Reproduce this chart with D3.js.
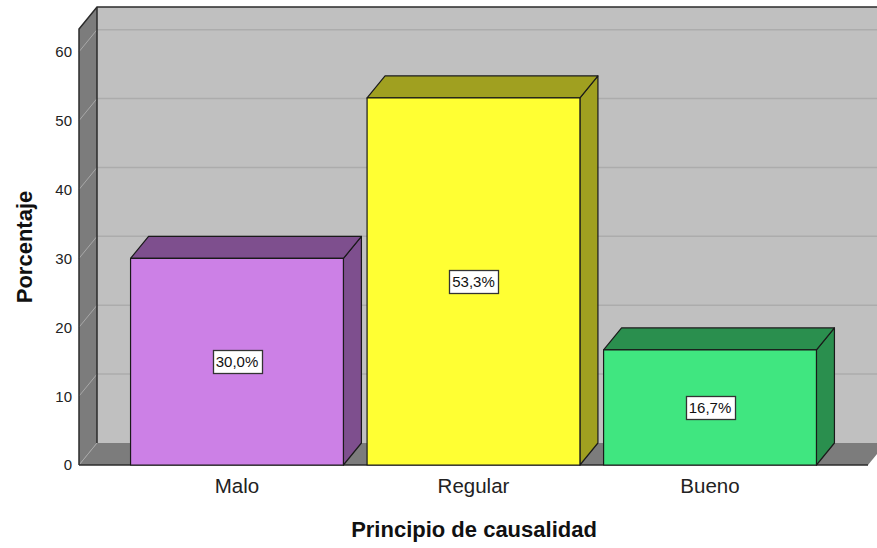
<!DOCTYPE html>
<html>
<head>
<meta charset="utf-8">
<script src="https://cdn.jsdelivr.net/npm/d3@7"></script>
<style>
  html, body { margin: 0; padding: 0; background: #fff; }
  svg { display: block; font-family: "Liberation Sans", Arial, sans-serif; }
</style>
</head>
<body>
<svg id="chart" width="877" height="548"></svg>
<script>
// Data
const categories = ["Malo", "Regular", "Bueno"];
const percentages = [30.0, 53.3, 16.7];
const frontColors = ["#cc80e6", "#ffff33", "#40e680"];
const sideColors = ["#7e4f8e", "#a0a020", "#2a8f4e"];
const yTicks = [0, 10, 20, 30, 40, 50, 60];

const svg = d3.select("#chart");

// Front plane geometry and depth offset for the 3D effect
const front = { left: 79, right: 868, top: 29, bottom: 465 };
const depth = { dx: 18, dy: -22 };
const yMax = 63.3;

const x = d3.scaleBand()
  .domain(categories)
  .range([front.left, front.right])
  .paddingInner(0.1)
  .paddingOuter(0.218);

const y = d3.scaleLinear()
  .domain([0, yMax])
  .range([front.bottom, front.top]);

const bx = front.left + depth.dx;
const wallRight = front.right + depth.dx;
const line = d3.line();

// Back wall
svg.append("rect")
  .attr("x", bx).attr("y", y(yMax) + depth.dy)
  .attr("width", wallRight - bx)
  .attr("height", y(0) - y(yMax))
  .attr("fill", "#c0c0c0");

// Left wall
svg.append("path")
  .attr("d", line([[front.left, y(yMax)], [bx, y(yMax) + depth.dy], [bx, y(0) + depth.dy], [front.left, y(0)]]) + "Z")
  .attr("fill", "#7c7c7c");

// Floor
svg.append("path")
  .attr("d", line([[front.left, y(0)], [bx, y(0) + depth.dy], [wallRight, y(0) + depth.dy], [front.right, y(0)]]) + "Z")
  .attr("fill", "#7c7c7c");

// Gridlines: along the back wall and diagonally across the left wall
const grid = svg.append("g");
yTicks.forEach(t => {
  if (t > 0) {
    grid.append("line")
      .attr("x1", bx).attr("x2", wallRight)
      .attr("y1", y(t) + depth.dy).attr("y2", y(t) + depth.dy)
      .attr("stroke", "#acacac").attr("stroke-width", 1.5);
  }
  grid.append("line")
    .attr("x1", front.left).attr("y1", y(t))
    .attr("x2", bx).attr("y2", y(t) + depth.dy)
    .attr("stroke", "#a8a8a8").attr("stroke-width", 1);
});

// Frame edges
const edge = "#2b2b2b";
svg.append("path")
  .attr("d", line([[front.left, y(0)], [front.left, y(yMax)], [bx, y(yMax) + depth.dy], [wallRight, y(yMax) + depth.dy]]))
  .attr("fill", "none").attr("stroke", edge).attr("stroke-width", 1.5);
svg.append("line")
  .attr("x1", bx).attr("x2", bx)
  .attr("y1", y(yMax) + depth.dy).attr("y2", y(0) + depth.dy)
  .attr("stroke", edge).attr("stroke-width", 1.5);
svg.append("line")
  .attr("x1", front.left).attr("x2", front.right)
  .attr("y1", y(0)).attr("y2", y(0))
  .attr("stroke", edge).attr("stroke-width", 1.5);

// Y axis tick labels
svg.append("g").selectAll("text")
  .data(yTicks).join("text")
  .attr("x", 72).attr("y", d => y(d))
  .attr("dy", "0.36em")
  .attr("text-anchor", "end")
  .attr("font-size", 15)
  .attr("fill", "#222")
  .text(d => d);

// Bars
const bars = svg.append("g");
categories.forEach((c, i) => {
  const v = percentages[i];
  const x0 = x(c), x1 = x(c) + x.bandwidth();
  const yv = y(v), y0 = y(0);
  const g = bars.append("g").attr("stroke", "#1a1a1a").attr("stroke-width", 1.2).attr("stroke-linejoin", "round");
  // side face
  g.append("path")
    .attr("d", line([[x1, yv], [x1 + depth.dx, yv + depth.dy], [x1 + depth.dx, y0 + depth.dy], [x1, y0]]) + "Z")
    .attr("fill", sideColors[i]);
  // top face
  g.append("path")
    .attr("d", line([[x0, yv], [x0 + depth.dx, yv + depth.dy], [x1 + depth.dx, yv + depth.dy], [x1, yv]]) + "Z")
    .attr("fill", sideColors[i]);
  // front face
  g.append("rect")
    .attr("x", x0).attr("y", yv)
    .attr("width", x1 - x0).attr("height", y0 - yv)
    .attr("fill", frontColors[i]);
});

// Value labels in boxes
const fmt = v => v.toFixed(1).replace(".", ",") + "%";
categories.forEach((c, i) => {
  const v = percentages[i];
  const cx = x(c) + x.bandwidth() / 2;
  const cy = (y(v) + y(0)) / 2;
  const lg = svg.append("g");
  const t = lg.append("text")
    .attr("x", cx).attr("y", cy)
    .attr("dy", "0.36em")
    .attr("text-anchor", "middle")
    .attr("font-size", 15)
    .attr("fill", "#111")
    .text(fmt(v));
  const bb = t.node().getBBox();
  lg.insert("rect", "text")
    .attr("x", Math.round(cx - bb.width / 2 - 3) + 0.5)
    .attr("y", Math.round(cy - 11.5) + 0.5)
    .attr("width", Math.round(bb.width + 6))
    .attr("height", 23)
    .attr("fill", "#fff")
    .attr("stroke", "#333")
    .attr("stroke-width", 1.3);
});

// X axis category labels
svg.append("g").selectAll("text")
  .data(categories).join("text")
  .attr("x", d => x(d) + x.bandwidth() / 2)
  .attr("y", 493)
  .attr("text-anchor", "middle")
  .attr("font-size", 20.5)
  .attr("fill", "#222")
  .text(d => d);

// Axis titles
svg.append("text")
  .attr("x", 474).attr("y", 537)
  .attr("text-anchor", "middle")
  .attr("font-size", 22)
  .attr("font-weight", "bold")
  .attr("fill", "#111")
  .text("Principio de causalidad");

svg.append("text")
  .attr("transform", "translate(32,247) rotate(-90)")
  .attr("text-anchor", "middle")
  .attr("font-size", 22)
  .attr("font-weight", "bold")
  .attr("fill", "#111")
  .text("Porcentaje");
</script>
</body>
</html>
